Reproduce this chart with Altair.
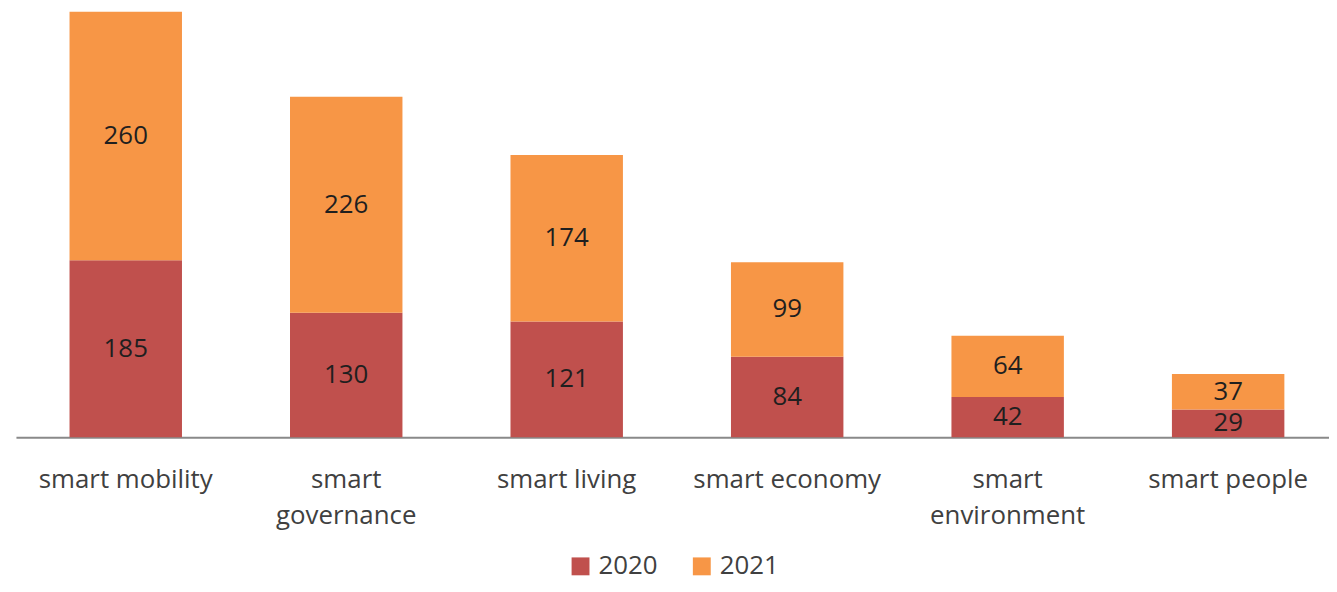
import altair as alt
import pandas as pd

categories = ["smart mobility", "smart governance", "smart living",
              "smart economy", "smart environment", "smart people"]
years = ["2020", "2021"]
v2020 = [185, 130, 121, 84, 42, 29]
v2021 = [260, 226, 174, 99, 64, 37]
colors = ["#C0504D", "#F79646"]

rows = []
for i, c in enumerate(categories):
    rows.append({"category": c, "year": "2020", "value": v2020[i], "ord": 0})
    rows.append({"category": c, "year": "2021", "value": v2021[i], "ord": 1})
df = pd.DataFrame(rows)

FONT = "Open Sans"

label_expr = ("datum.label == 'smart governance' ? ['smart','governance'] : "
              "datum.label == 'smart environment' ? ['smart','environment'] : datum.label")

xenc = alt.X(
    "category:N", sort=categories, title=None,
    scale=alt.Scale(range=[0, 1330], paddingInner=0.49, paddingOuter=0.243),
    axis=alt.Axis(labelAngle=0, ticks=False, tickSize=0, labelPadding=30,
                  labelFont=FONT, labelFontSize=26, labelColor="#404040",
                  labelLineHeight=36, labelExpr=label_expr,
                  domainColor="#898989", domainWidth=2, grid=False,
                  labelLimit=400),
)
yscale = alt.Scale(domain=[0, 445], nice=False)

bars = alt.Chart(df).mark_bar().encode(
    x=xenc,
    y=alt.Y("value:Q", stack="zero", scale=yscale, axis=None),
    color=alt.Color(
        "year:N",
        scale=alt.Scale(domain=years, range=colors),
        legend=alt.Legend(title=None, orient="none", legendX=555, legendY=545,
                          direction="horizontal", symbolType="square",
                          symbolSize=324, symbolStrokeWidth=0,
                          labelFont=FONT, labelFontSize=26,
                          labelColor="#404040", labelOffset=5,
                          columnPadding=31),
    ),
    order=alt.Order("ord:Q"),
)

labels = alt.Chart(df).transform_stack(
    stack="value", groupby=["category"], as_=["y0", "y1"],
    sort=[alt.SortField("ord")],
).transform_calculate(
    mid="(datum.y0 + datum.y1) / 2"
).mark_text(font=FONT, fontSize=26, color="#1f1f1f", baseline="middle").encode(
    x=alt.X("category:N", sort=categories),
    y=alt.Y("mid:Q", scale=yscale, axis=None),
    text="value:Q",
)

chart = (bars + labels).properties(
    width=1321, height=428,
    autosize=alt.AutoSizeParams(type="none"),
    padding={"left": 8, "top": 2, "right": 0, "bottom": 146},
).configure_view(stroke=None)

chart.save("out.html", embed_options={"renderer": "svg", "actions": False})
